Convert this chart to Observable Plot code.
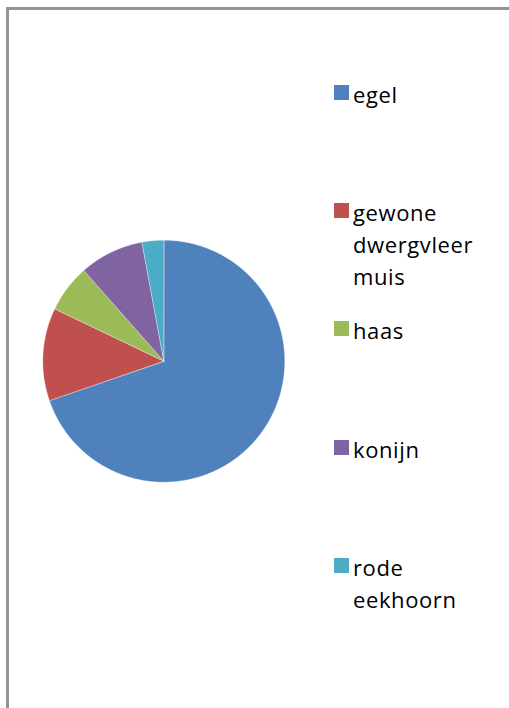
<!DOCTYPE html>
<html>
<head>
<meta charset="utf-8">
<script src="https://cdn.jsdelivr.net/npm/d3@7"></script>
<script src="https://cdn.jsdelivr.net/npm/@observablehq/plot@0.6"></script>
<style>
  html, body { margin: 0; padding: 0; background: #fff; }
  #wrap { position: relative; width: 509px; height: 708px; overflow: hidden; background: #fff; }
  #frame { position: absolute; left: 6px; top: 7px; width: 600px; height: 800px; border: 3px solid #939393; box-sizing: border-box; pointer-events: none; }
  #legend { position: absolute; left: 0; top: 0; font-family: "Open Sans", sans-serif; font-size: 22px; letter-spacing: 0.6px; color: #000; }
  .item { position: absolute; left: 334px; }
  .sw { position: absolute; left: 0; width: 15px; height: 15px; }
  .lb { position: absolute; left: 19px; white-space: pre; line-height: 32px; }
</style>
</head>
<body>
<div id="wrap">
  <div id="chart"></div>
  <div id="frame"></div>
  <div id="legend"></div>
</div>
<script>
// Data
const categories = ["egel", "gewone dwergvleermuis", "haas", "konijn", "rode eekhoorn"];
const legendLabels = ["egel", "gewone\ndwergvleer\nmuis", "haas", "konijn", "rode\neekhoorn"];
const values = [69.7, 12.4, 6.4, 8.6, 2.9];
const colors = ["#4F81BD", "#C0504D", "#9BBB59", "#8064A2", "#4BACC6"];

// Build slice polygons (clockwise from 12 o'clock)
const total = d3.sum(values);
const pts = [];
let acc = 0;
categories.forEach((name, i) => {
  const a0 = acc / total * 2 * Math.PI;
  acc += values[i];
  const a1 = acc / total * 2 * Math.PI;
  pts.push({name, x: 0, y: 0});
  const n = Math.max(2, Math.ceil((a1 - a0) / (Math.PI / 360)));
  for (let k = 0; k <= n; k++) {
    const a = a0 + (a1 - a0) * k / n;
    pts.push({name, x: Math.sin(a), y: Math.cos(a)});
  }
});

const cx = 163.3, cy = 360.7, r = 121;
const chart = Plot.plot({
  width: 509,
  height: 708,
  margin: 0,
  style: {background: "transparent"},
  x: {domain: [-1, 1], range: [cx - r, cx + r], axis: null},
  y: {domain: [-1, 1], range: [cy + r, cy - r], axis: null},
  color: {domain: categories, range: colors},
  marks: [
    Plot.line(pts, {x: "x", y: "y", z: "name", fill: "name", stroke: "#ffffff", strokeWidth: 0.6, strokeOpacity: 0.6, curve: "linear-closed"})
  ]
});
document.getElementById("chart").appendChild(chart);

// Legend
const legend = document.getElementById("legend");
categories.forEach((name, i) => {
  const top = 85 + i * 118.2;
  const item = document.createElement("div");
  item.className = "item";
  item.style.top = top + "px";
  const sw = document.createElement("div");
  sw.className = "sw";
  sw.style.background = colors[i];
  const lb = document.createElement("div");
  lb.className = "lb";
  lb.style.top = "-7px";
  lb.textContent = legendLabels[i];
  item.appendChild(sw);
  item.appendChild(lb);
  legend.appendChild(item);
});
</script>
</body>
</html>
